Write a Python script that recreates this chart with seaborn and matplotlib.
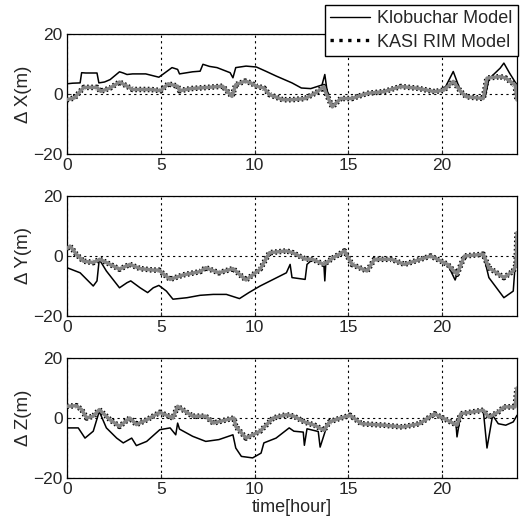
import numpy as np
import pandas as pd
import matplotlib
matplotlib.use("Agg")
import matplotlib.pyplot as plt
from matplotlib.lines import Line2D
import seaborn as sns

# ---------------- data ----------------
# Delta X  - Klobuchar
kx_t = [0, 0.3, 0.7, 0.78, 1.0, 1.6, 1.7, 2.0, 2.3, 2.8, 3.0, 3.2, 3.5, 4.2, 4.9, 5.1, 5.6, 5.9,
        6.0, 6.7, 7.1, 7.25, 7.6, 8.0, 8.7, 8.85, 9.0, 9.55, 10.1, 10.6, 11.15, 12.0, 12.5, 13.0,
        13.6, 13.75, 13.85, 14.0, 14.2, 14.6, 15.2, 16.0, 16.9, 17.8, 18.7, 19.6, 20.1, 20.6,
        21.0, 21.3, 22.2, 22.3, 22.5, 23.1, 23.3, 23.6, 24.0]
kx_v = [3.4, 3.6, 3.7, 7.1, 7.0, 7.0, 3.7, 4.0, 4.8, 7.4, 7.0, 6.5, 6.7, 6.7, 5.6, 6.5, 8.8, 8.2,
        6.7, 7.4, 7.6, 9.9, 9.2, 8.8, 7.1, 5.4, 8.8, 9.3, 9.0, 7.6, 6.0, 3.7, 2.0, 1.8,
        3.0, 6.5, 2.0, -2.0, -4.0, -1.5, -1.5, 0.2, 0.8, 2.5, 1.9, 0.8, 1.3, 7.5,
        0.8, -0.9, -1.5, -1.0, 5.0, 8.6, 10.3, 7.0, 3.0]
# Delta X  - KASI RIM
rx_t = [0, 0.4, 0.7, 0.9, 1.6, 1.8, 2.3, 2.8, 3.2, 3.5, 4.5, 5.0, 5.4, 5.9, 6.0, 6.6, 7.5, 8.3,
        8.8, 9.0, 9.5, 9.8, 10.1, 10.5, 10.8, 11.5, 12.0, 12.7, 13.3, 13.7, 13.8, 14.15, 14.6,
        15.2, 16.0, 16.9, 17.8, 18.7, 19.6, 20.1, 20.6, 21.0, 21.3, 22.2, 22.4, 23.1, 23.4,
        23.9, 24.0]
rx_v = [-1.9, -1.3, 0.9, 2.2, 2.2, 0.9, 2.0, 4.0, 2.6, 1.5, 1.5, 1.1, 3.4, 2.6, 1.1, 1.8, 2.2, 2.6,
        -0.8, 3.1, 4.3, 3.7, 2.6, 2.0, -0.2, -1.9, -1.9, -1.5, 0.5, 2.5, 0.5, -4.3, -1.5,
        -1.5, 0.2, 0.8, 2.5, 1.9, 0.8, 1.3, 4.2, 0.8, -0.9, -1.5, 5.3, 5.8, 5.3,
        3.0, -2.0]

# Delta Y  - Klobuchar
ky_t = [0, 0.7, 1.4, 1.6, 1.72, 2.1, 2.8, 3.2, 3.4, 3.9, 4.3, 4.6, 4.9, 5.3, 5.65, 6.4, 7.1, 7.8,
        8.5, 9.2, 9.7, 10.3, 11.0, 11.7, 11.9, 12.0, 12.7, 12.8, 13.1, 13.7, 13.75, 13.8, 14.2,
        14.8, 15.2, 16.0, 16.4, 17.3, 18.0, 19.4, 20.3, 20.7, 20.8, 21.2, 22.2, 22.5, 23.3,
        23.8, 24.0]
ky_v = [-3.9, -5.6, -10.0, -8.3, -1.1, -5.0, -10.6, -8.9, -8.3, -10.6, -12.2, -10.6, -9.8, -11.7,
        -14.4, -13.9, -13.1, -12.8, -12.8, -14.2, -12.2, -10.0, -7.8, -5.6, -2.8, -7.2, -7.8,
        -2.8, -1.1, -2.8, -8.3, -2.8, -0.6, 1.7, -2.8, -5.0, -1.1, -1.1, -2.8, 0.0, -2.8,
        -8.0, -6.1, 0.0, 0.6, -7.2, -13.9, -11.7, 5.6]
# Delta Y  - KASI RIM
ry_t = [0, 0.16, 0.5, 0.87, 1.4, 1.75, 2.3, 2.8, 3.35, 3.9, 4.6, 4.9, 5.5, 6.2, 7.1, 7.4, 8.1,
        8.85, 9.55, 10.3, 10.8, 11.7, 12.04, 12.7, 13.1, 13.7, 14.2, 14.8, 15.2, 16.0, 16.4,
        17.3, 18.0, 19.4, 20.3, 20.8, 21.2, 22.2, 22.5, 23.3, 23.8, 23.95, 24.0]
ry_v = [2.5, 3.3, 0.6, -1.7, -2.2, -1.1, -2.8, -4.4, -2.8, -4.2, -4.7, -4.7, -7.8, -6.3, -5.2,
        -3.9, -5.6, -4.2, -8.0, -4.4, 1.1, 1.7, 1.1, -1.0, -1.1, -2.8, -0.6, 1.7, -2.8, -5.0,
        -1.1, -1.1, -2.8, 0.0, -2.8, -6.1, 0.0, 0.6, -3.9, -7.2, -5.0, -3.0, 7.8]

# Delta Z  - Klobuchar
kz_t = [0, 0.6, 0.96, 1.4, 1.72, 2.1, 2.65, 3.0, 3.45, 3.7, 4.25, 4.95, 5.5, 5.8, 5.9, 6.0, 6.7,
        7.4, 8.1, 8.85, 9.0, 9.3, 9.9, 10.35, 10.5, 11.15, 11.85, 12.1, 12.6, 12.66, 12.8,
        13.4, 13.5, 13.9, 14.5, 15.1, 15.7, 16.9, 17.9, 18.8, 19.6, 20.3, 20.75, 20.8, 21.0,
        22.2, 22.4, 22.7, 23.0, 23.4, 23.8, 24.0]
kz_v = [-3.3, -3.3, -6.7, -4.4, 2.2, -3.3, -6.7, -8.3, -6.7, -9.2, -7.8, -3.9, -3.3, -5.6, -1.7,
        -3.7, -6.1, -7.8, -7.2, -5.6, -10.0, -12.8, -13.3, -11.7, -8.3, -6.7, -3.3, -4.4,
        -4.7, -9.1, -3.6, -4.5, -9.7, -1.9, -0.2, 0.9, -1.9, -2.4, -3.0, -1.9, 1.4, -0.8,
        -2.4, -6.3, 1.4, 2.6, -10.0, 0.9, -1.9, -2.4, -1.3, 0.9]
# Delta Z  - KASI RIM
rz_t = [0, 0.5, 0.78, 1.05, 1.4, 1.72, 2.3, 2.8, 3.35, 3.7, 4.25, 4.95, 5.65, 5.9, 6.7, 7.4,
        7.8, 8.5, 8.9, 9.0, 9.55, 10.3, 11.0, 11.7, 12.1, 12.66, 13.2, 13.7, 14.0, 14.5, 15.1,
        15.7, 16.9, 17.9, 18.8, 19.6, 20.3, 20.8, 21.0, 22.2, 22.5, 23.0, 23.3, 23.9, 24.0]
rz_v = [3.9, 4.1, 2.8, 0.0, 0.6, 2.8, -0.6, -2.8, 0.0, -2.2, -0.6, 1.9, 0.0, 3.9, 0.6, 0.6,
        -1.7, -0.6, 0.0, -2.8, -6.7, -4.4, 0.0, 1.1, 0.6, -1.3, -2.4, -4.1, -1.3, -0.2, 0.9,
        -1.9, -2.4, -3.0, -1.9, 1.4, -0.8, -2.4, 1.4, 2.6, 0.3, 2.0, 3.7, 3.7, 10.0]

panel_labels = ["\u0394 X(m)", "\u0394 Y(m)", "\u0394 Z(m)"]
series_names = ["Klobuchar Model", "KASI RIM Model"]
x_ticks = [0, 5, 10, 15, 20]
y_ticks = [-20, 0, 20]
x_label = "time[hour]"

panels = [((kx_t, kx_v), (rx_t, rx_v)),
          ((ky_t, ky_v), (ry_t, ry_v)),
          ((kz_t, kz_v), (rz_t, rz_v))]

# ---------------- style ----------------
sns.set_style("white")
plt.rcParams["font.family"] = ["Liberation Sans", "DejaVu Sans"]
plt.rcParams["axes.linewidth"] = 0.9

W, H = 529, 530
fig = plt.figure(figsize=(W / 100, H / 100), dpi=100)

left, right = 67 / W, 517 / W
tops = [34, 196, 358]
ph = 120

axes = []
for i, ((kt, kv), (rt, rv)) in enumerate(panels):
    top = tops[i]
    ax = fig.add_axes([left, 1 - (top + ph) / H, right - left, ph / H])
    axes.append(ax)
    dfr = pd.DataFrame({"t": rt, "v": rv})
    # KASI RIM: speckled black edge + gray core
    sns.lineplot(data=dfr, x="t", y="v", ax=ax, estimator=None, sort=False,
                 color="black", linestyle=(0, (0.3, 0.45)), linewidth=4.0, zorder=3)
    sns.lineplot(data=dfr, x="t", y="v", ax=ax, estimator=None, sort=False,
                 color="#858585", linewidth=2.5, zorder=4)
    dfk = pd.DataFrame({"t": kt, "v": kv})
    sns.lineplot(data=dfk, x="t", y="v", ax=ax, estimator=None, sort=False,
                 color="black", linewidth=1.1, zorder=2)

    ax.set_xlim(0, 24)
    ax.set_ylim(-20, 20)
    ax.set_xticks(x_ticks)
    ax.set_yticks(y_ticks)
    ax.grid(True, color="black", linestyle=(0, (2, 3)), linewidth=0.8)
    ax.set_axisbelow(True)
    ax.tick_params(direction="in", length=3, labelsize=12.5, pad=3,
                   bottom=True, left=True, top=False, right=False)
    for s in ax.spines.values():
        s.set_color("black")
        s.set_visible(True)
    ax.set_ylabel(panel_labels[i], fontsize=13.5, labelpad=1)
    ax.set_xlabel("")

axes[-1].set_xlabel(x_label, fontsize=13, labelpad=1)

handles = [Line2D([], [], color="black", linewidth=1.0),
           Line2D([], [], color="black", linestyle=":", linewidth=2.4)]
fig.legend(handles, series_names, loc="upper right",
           bbox_to_anchor=(518 / W, 1 - 5 / H), fontsize=13,
           frameon=True, fancybox=False, edgecolor="black", framealpha=1,
           borderpad=0.3, labelspacing=0.35, handlelength=2.2, handletextpad=0.4,
           borderaxespad=0)

fig.savefig("out.png", dpi=100)
